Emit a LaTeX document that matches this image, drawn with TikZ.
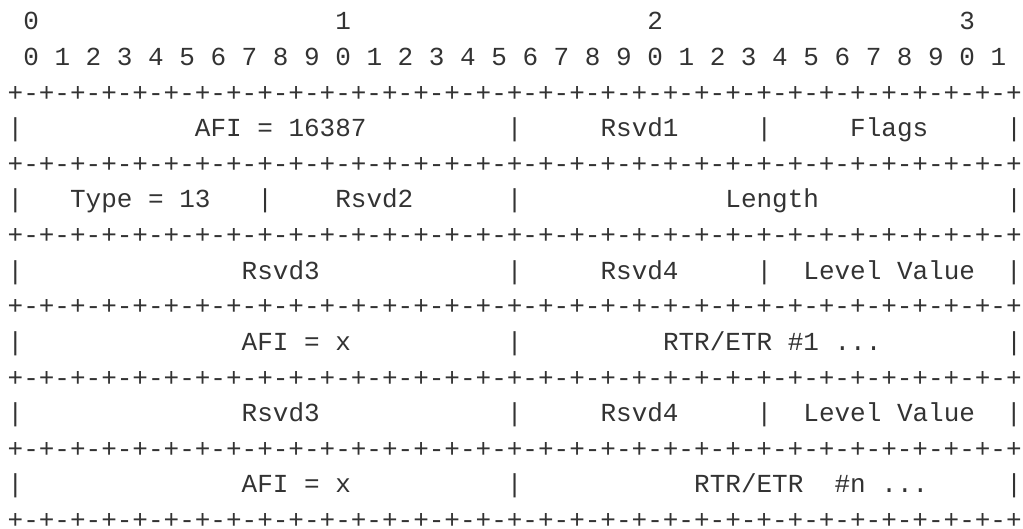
\documentclass[tikz,border=0pt]{standalone}
\usepackage{fontspec}
\newfontfamily\asciifont{Liberation Mono}
\definecolor{ink}{HTML}{333333}
\newdimen\chwd \chwd=15.6025pt
\newcommand\Sp[1]{\hskip #1\chwd\relax}
\newcommand\brdx{-+-+-+-+-+-+-+-+}
\newcommand\brd{+\brdx\brdx\brdx\brdx}
\newcommand\asciisetup{\asciifont\fontsize{26pt}{35.6pt}\selectfont\spaceskip=15.6025pt\relax\xspaceskip=15.6025pt\relax}
\tikzset{
  ln/.style={anchor=base west, inner sep=0pt, outer sep=0pt, text=ink,
    font=\asciisetup}
}
\begin{document}
\begin{tikzpicture}[x=1pt,y=1pt]
\useasboundingbox (0,0) rectangle (1023,-529);
\node[ln] (l0)  at (7.7,-30.0)  {\Sp{1}0\Sp{19}1\Sp{19}2\Sp{19}3};
\node[ln] (l1)  at (7.7,-65.6)  {\Sp{1}0 1 2 3 4 5 6 7 8 9 0 1 2 3 4 5 6 7 8 9 0 1 2 3 4 5 6 7 8 9 0 1};
\node[ln] (l2)  at (7.7,-101.2) {\brd};
\node[ln] (l3)  at (7.7,-136.8) {|\Sp{11}AFI = 16387\Sp{9}|\Sp{5}Rsvd1\Sp{5}|\Sp{5}Flags\Sp{5}|};
\node[ln] (l4)  at (7.7,-172.4) {\brd};
\node[ln] (l5)  at (7.7,-208.0) {|\Sp{3}Type = 13\Sp{3}|\Sp{4}Rsvd2\Sp{6}|\Sp{13}Length\Sp{12}|};
\node[ln] (l6)  at (7.7,-243.6) {\brd};
\node[ln] (l7)  at (7.7,-279.2) {|\Sp{14}Rsvd3\Sp{12}|\Sp{5}Rsvd4\Sp{5}|\Sp{2}Level Value\Sp{2}|};
\node[ln] (l8)  at (7.7,-314.8) {\brd};
\node[ln] (l9)  at (7.7,-350.4) {|\Sp{14}AFI = x\Sp{10}|\Sp{9}RTR/ETR \#1 ...\Sp{8}|};
\node[ln] (l10) at (7.7,-386.0) {\brd};
\node[ln] (l11) at (7.7,-421.6) {|\Sp{14}Rsvd3\Sp{12}|\Sp{5}Rsvd4\Sp{5}|\Sp{2}Level Value\Sp{2}|};
\node[ln] (l12) at (7.7,-457.2) {\brd};
\node[ln] (l13) at (7.7,-492.8) {|\Sp{14}AFI = x\Sp{10}|\Sp{11}RTR/ETR\Sp{2}\#n ...\Sp{5}|};
\node[ln] (l14) at (7.7,-528.4) {\brd};
\end{tikzpicture}
\end{document}
